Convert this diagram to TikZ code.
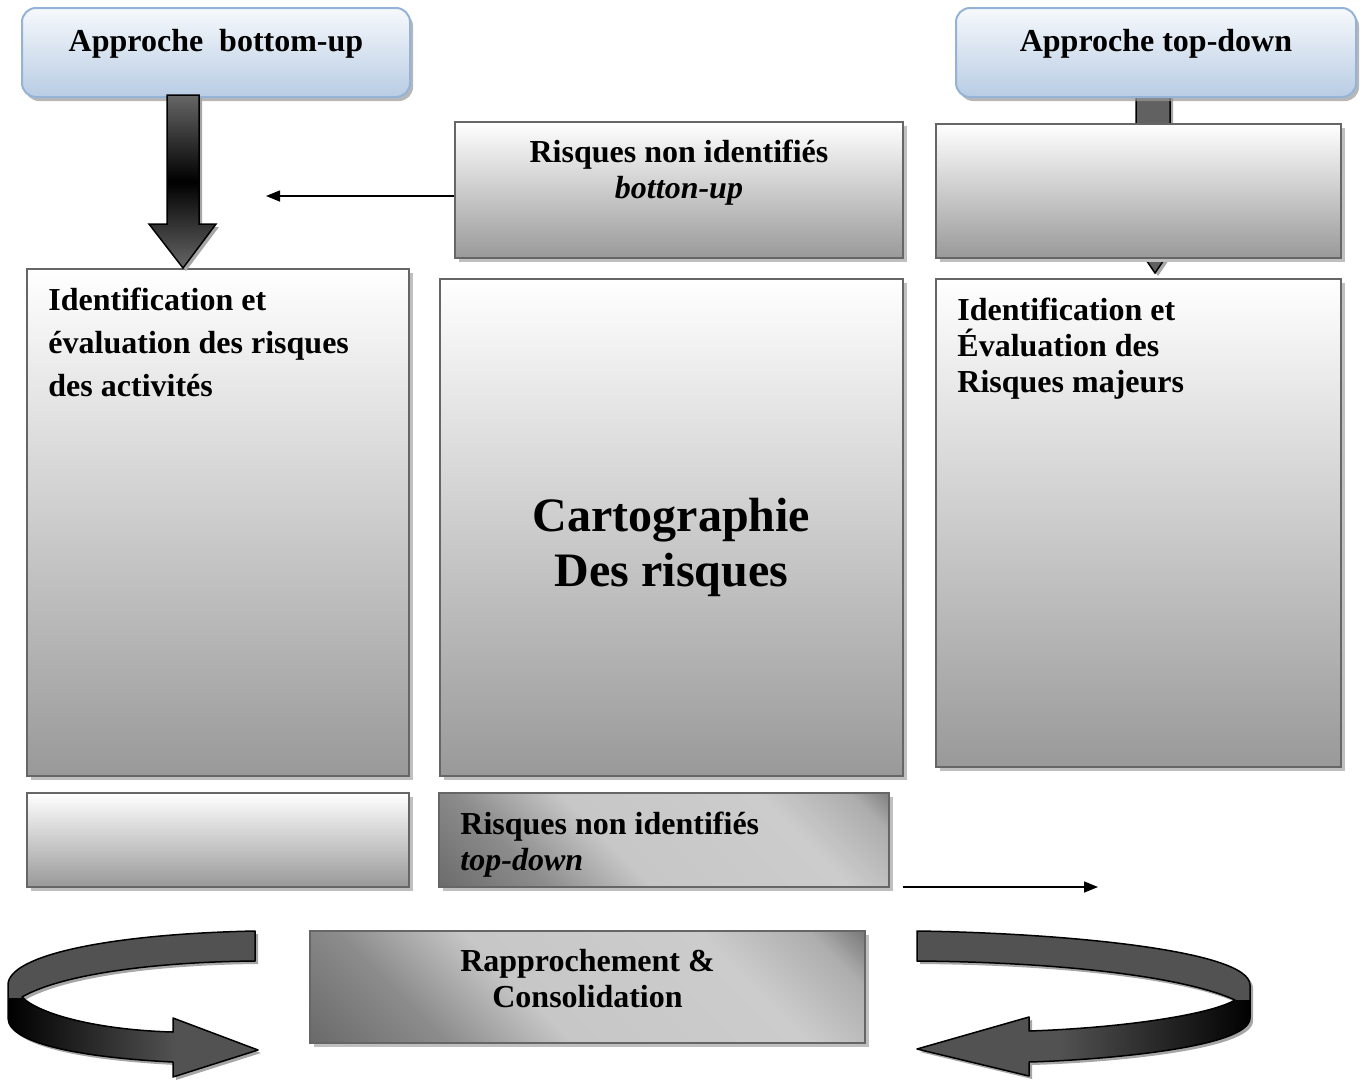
\documentclass[tikz,border=0pt]{standalone}
\usepackage{fontspec}
\setmainfont{Liberation Serif}
\usetikzlibrary{arrows.meta}
\usetikzlibrary{shadows}
\usetikzlibrary{positioning}

\definecolor{bleuclair}{RGB}{184,204,228}
\definecolor{bleubord}{RGB}{149,179,215}

% degrade en diagonale (coins sombres, bande claire)
\pgfdeclarehorizontalshading{bandeG}{100bp}{color(0bp)=(black!60); color(25bp)=(black!60); color(36bp)=(black!45);
  color(45bp)=(black!22); color(62bp)=(black!20); color(70bp)=(black!32); color(75bp)=(black!58); color(100bp)=(black!58)}

\tikzset{
 titre/.style={draw=bleubord, line width=2pt, rounded corners=14pt, top color=bleuclair!12, bottom color=bleuclair,
   drop shadow={shadow xshift=3pt, shadow yshift=-4pt, fill=black!40, opacity=.7}},
 boite/.style={draw=black!60, line width=1.5pt, top color=white, bottom color=black!40, inner sep=0,
   drop shadow={shadow xshift=4pt, shadow yshift=-4pt, fill=black!25, opacity=1}},
 bande/.style={path picture={
   \begin{scope}[transform canvas={rotate around={45:(path picture bounding box.center)}}]
    \shade[shading=bandeG] (path picture bounding box.center) ++(-#1,-#1) rectangle ++(2*#1,2*#1);
   \end{scope}}},
 txt/.style={inner sep=0, font=\fontsize{32}{36}\selectfont\bfseries},
 lien/.style={line width=1.5pt, -{Triangle[length=14pt,width=11pt]}},
 grosse/.style={draw=black, line width=1.5pt, drop shadow={shadow xshift=3pt, shadow yshift=-3pt, fill=black!35, opacity=1}},
}

% contours des fleches
\def\flecheB{(167,95) -- (199,95) -- (199,224) -- (216,224) -- (183,268) -- (149,224) -- (167,224) -- cycle}
\def\cheminG{(255,931) .. controls (110,934) and (8,955) .. (8,985) -- (8,1018)
  .. controls (8,1045) and (90,1058) .. (173,1062) -- (173,1077) -- (258,1050) -- (173,1018) -- (173,1032)
  .. controls (100,1030) and (40,1015) .. (22,997) .. controls (60,975) and (150,962) .. (255,961) -- cycle}
\def\cheminD{(917,931) .. controls (1060,933) and (1250,950) .. (1250,985) -- (1250,1018)
  .. controls (1250,1048) and (1100,1060) .. (1029,1062) -- (1029,1076) -- (917,1049) -- (1029,1017) -- (1029,1031)
  .. controls (1120,1028) and (1210,1015) .. (1235,1000) .. controls (1180,975) and (1050,962) .. (917,961) -- cycle}

\begin{document}
\begin{tikzpicture}[x=1pt,y=-1pt]
\useasboundingbox (0,0) rectangle (1362,1079);

% fleche top-down (cachee derriere la boite)
\fill[grosse, fill=black!62] (1136,95) -- (1170,95) -- (1170,226) -- (1187,226) -- (1155,273) -- (1123,226) -- (1136,226) -- cycle;

% approches
\node[titre, minimum width=388, minimum height=89] (bu) at (216,52.5) {};
\node[titre, minimum width=400, minimum height=89] (td) at (1156,52.5) {};
\node[txt, below=22pt of bu.north] {Approche~ bottom-up};
\node[txt, below=22pt of td.north] {Approche top-down};

% boites
\node[boite, minimum width=448, minimum height=136] (rbu) at (679,190) {};
\node[boite, minimum width=405, minimum height=134] (rtd) at (1138.5,191) {};
\node[boite, minimum width=382, minimum height=507] (idact) at (218,522.5) {};
\node[boite, minimum width=463, minimum height=497] (carto) at (671.5,527.5) {};
\node[boite, minimum width=405, minimum height=488] (idmaj) at (1138.5,523) {};
\node[boite, minimum width=382, minimum height=94] (vide) at (218,840) {};
\node[boite, bande=205, minimum width=450, minimum height=94] (rtdn) at (664,840) {};
\node[boite, bande=245, minimum width=555, minimum height=112] (rapp) at (587.5,987) {};

\node[txt, align=center, below=19pt of rbu.north] {Risques non identifiés\\\textit{botton-up}};
\node[txt, align=left, font=\fontsize{32}{43}\selectfont\bfseries, below right=20pt and 22pt of idact.north west]
  {Identification et\\évaluation des risques\\des activités};
\node[txt, align=center, font=\fontsize{48}{55}\selectfont\bfseries, below=220pt of carto.north] {Cartographie\\Des risques};
\node[txt, align=left, below right=20pt and 22pt of idmaj.north west] {Identification et\\Évaluation des\\Risques majeurs};
\node[txt, align=left, below right=20pt and 22pt of rtdn.north west] {Risques non identifiés\\\textit{top-down}};
\node[txt, align=center, below=19pt of rapp.north] {Rapprochement \&\\Consolidation};

% fleche bottom-up
\fill[black!35, xshift=3pt, yshift=-3pt] \flecheB;
\shade[draw=black, line width=1.5pt, top color=black!60, bottom color=black!60, middle color=black] \flecheB;

% liens
\coordinate (bupt) at (266,196);
\coordinate (tda) at (903,887);
\coordinate (tdb) at (1098,887);
\draw[lien] (bupt -| rbu.west) -- (bupt);
\draw[lien] (tda) -- (tdb);

% fleches courbes
\fill[grosse, draw=none, fill=black!68] \cheminG;
\begin{scope}
 \clip \cheminG;
 \shade[left color=black, right color=black!68] (8,998) rectangle (175,1080);
\end{scope}
\draw[line width=1.5pt, line join=round] \cheminG;

\fill[grosse, draw=none, fill=black!68] \cheminD;
\begin{scope}
 \clip \cheminD;
 \shade[left color=black!68, right color=black] (1060,1000) rectangle (1252,1080);
\end{scope}
\draw[line width=1.5pt, line join=round] \cheminD;
\end{tikzpicture}
\end{document}
